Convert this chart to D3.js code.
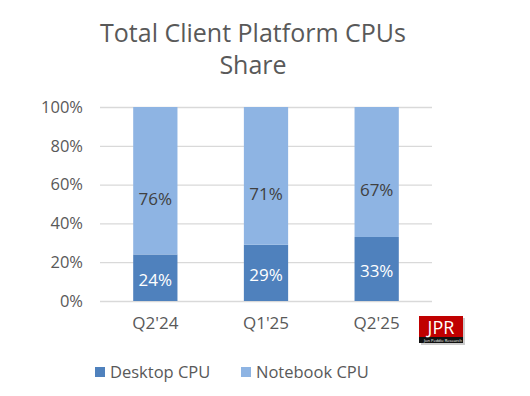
<!DOCTYPE html>
<html>
<head>
<meta charset="utf-8">
<script src="https://cdn.jsdelivr.net/npm/d3@7"></script>
<style>
  body { margin: 0; background: #fff; }
  svg text { font-family: "Open Sans", Lato, sans-serif; }
</style>
</head>
<body>
<div id="vis"></div>
<script>
// chart data
const quarters = ["Q2'24", "Q1'25", "Q2'25"];
const desktop = [24, 29, 33];
const notebook = [76, 71, 67];
const seriesNames = ["Desktop CPU", "Notebook CPU"];
const yTicks = [0, 20, 40, 60, 80, 100];

// frame and plot area
const FRAME_WIDTH = 530;
const FRAME_HEIGHT = 396;
const MARGINS = {left: 100, right: 98, top: 107, bottom: 95};
const VIS_WIDTH = FRAME_WIDTH - MARGINS.left - MARGINS.right;
const VIS_HEIGHT = FRAME_HEIGHT - MARGINS.top - MARGINS.bottom;

const COLORS = {"Desktop CPU": "#4f81bd", "Notebook CPU": "#8eb4e3"};

const FRAME = d3.select("#vis")
  .append("svg")
    .attr("width", FRAME_WIDTH)
    .attr("height", FRAME_HEIGHT);

// title
FRAME.append("text")
  .attr("x", 253)
  .attr("y", 42)
  .attr("text-anchor", "middle")
  .attr("font-size", "25px")
  .attr("fill", "#595959")
  .text("Total Client Platform CPUs");
FRAME.append("text")
  .attr("x", 253)
  .attr("y", 74)
  .attr("text-anchor", "middle")
  .attr("font-size", "25px")
  .attr("fill", "#595959")
  .text("Share");

const X_SCALE = d3.scaleBand()
  .domain(quarters)
  .range([0, VIS_WIDTH])
  .paddingInner(0.6)
  .paddingOuter(0.3);

const Y_SCALE = d3.scaleLinear()
  .domain([0, 100])
  .range([VIS_HEIGHT, 0]);

const plot = FRAME.append("g")
  .attr("transform", "translate(" + MARGINS.left + "," + MARGINS.top + ")");

// gridlines
plot.append("g")
  .call(d3.axisLeft(Y_SCALE).tickValues(yTicks).tickSize(-VIS_WIDTH).tickFormat(""))
  .call(g => g.select(".domain").remove())
  .call(g => g.selectAll("line").attr("stroke", "#d9d9d9").attr("stroke-width", 1.3));

// y axis labels
plot.append("g")
  .call(d3.axisLeft(Y_SCALE).tickValues(yTicks).tickSize(0).tickPadding(17).tickFormat(d => d + "%"))
  .call(g => g.select(".domain").remove())
  .call(g => g.selectAll("text").attr("font-size", "16.5px").attr("fill", "#595959")
    .attr("font-family", "'Open Sans', Lato, sans-serif"));

// stacked data
const rows = quarters.map((q, i) => ({quarter: q, "Desktop CPU": desktop[i], "Notebook CPU": notebook[i]}));
const stacked = d3.stack().keys(seriesNames)(rows);

const layers = plot.selectAll(".layer")
  .data(stacked)
  .enter()
  .append("g")
    .attr("class", "layer")
    .attr("fill", d => COLORS[d.key]);

layers.selectAll("rect")
  .data(d => d)
  .enter()
  .append("rect")
    .attr("x", d => X_SCALE(d.data.quarter))
    .attr("y", d => Y_SCALE(d[1]))
    .attr("width", X_SCALE.bandwidth())
    .attr("height", d => Y_SCALE(d[0]) - Y_SCALE(d[1]));

// data labels
stacked.forEach(layer => {
  plot.selectAll(".lbl-" + layer.index)
    .data(layer)
    .enter()
    .append("text")
      .attr("x", d => X_SCALE(d.data.quarter) + X_SCALE.bandwidth() / 2)
      .attr("y", d => (Y_SCALE(d[0]) + Y_SCALE(d[1])) / 2 + (layer.key == "Desktop CPU" ? 2 : 18))
      .attr("dy", "0.35em")
      .attr("text-anchor", "middle")
      .attr("font-size", "17px")
      .attr("fill", layer.key == "Desktop CPU" ? "#ffffff" : "#404040")
      .text(d => (d[1] - d[0]) + "%");
});

// x axis labels
plot.append("g")
  .attr("transform", "translate(0," + VIS_HEIGHT + ")")
  .call(d3.axisBottom(X_SCALE).tickSize(0).tickPadding(16))
  .call(g => g.select(".domain").remove())
  .call(g => g.selectAll("text").attr("font-size", "17px").attr("fill", "#595959")
    .attr("font-family", "'Open Sans', Lato, sans-serif"));

// legend
const legendX = [95, 241];
const legend = FRAME.selectAll(".legend")
  .data(seriesNames)
  .enter()
  .append("g")
    .attr("class", "legend")
    .attr("transform", (d, i) => "translate(" + legendX[i] + ",367)");
legend.append("rect")
  .attr("width", 10)
  .attr("height", 10)
  .attr("fill", d => COLORS[d]);
legend.append("text")
  .attr("x", 15)
  .attr("y", 5)
  .attr("dy", "0.35em")
  .attr("font-size", "16.5px")
  .attr("fill", "#595959")
  .text(d => d);

// JPR logo
const logo = FRAME.append("g").attr("transform", "translate(419,316)");
logo.append("rect")
  .attr("x", 2).attr("y", 2)
  .attr("width", 44).attr("height", 27)
  .attr("fill", "#999").attr("opacity", 0.5);
logo.append("rect")
  .attr("width", 44).attr("height", 27)
  .attr("fill", "#c00000");
logo.append("rect")
  .attr("y", 21)
  .attr("width", 44).attr("height", 6)
  .attr("fill", "#111");
logo.append("text")
  .attr("x", 22).attr("y", 18)
  .attr("text-anchor", "middle")
  .attr("font-family", "'Liberation Serif', serif")
  .attr("font-size", "18px")
  .attr("fill", "#fff")
  .text("JPR");
logo.append("text")
  .attr("x", 24).attr("y", 25.5)
  .attr("text-anchor", "middle")
  .attr("font-family", "'Liberation Serif', serif")
  .attr("font-size", "4px")
  .attr("fill", "#fff")
  .text("Jon Peddie Research");
</script>
</body>
</html>
